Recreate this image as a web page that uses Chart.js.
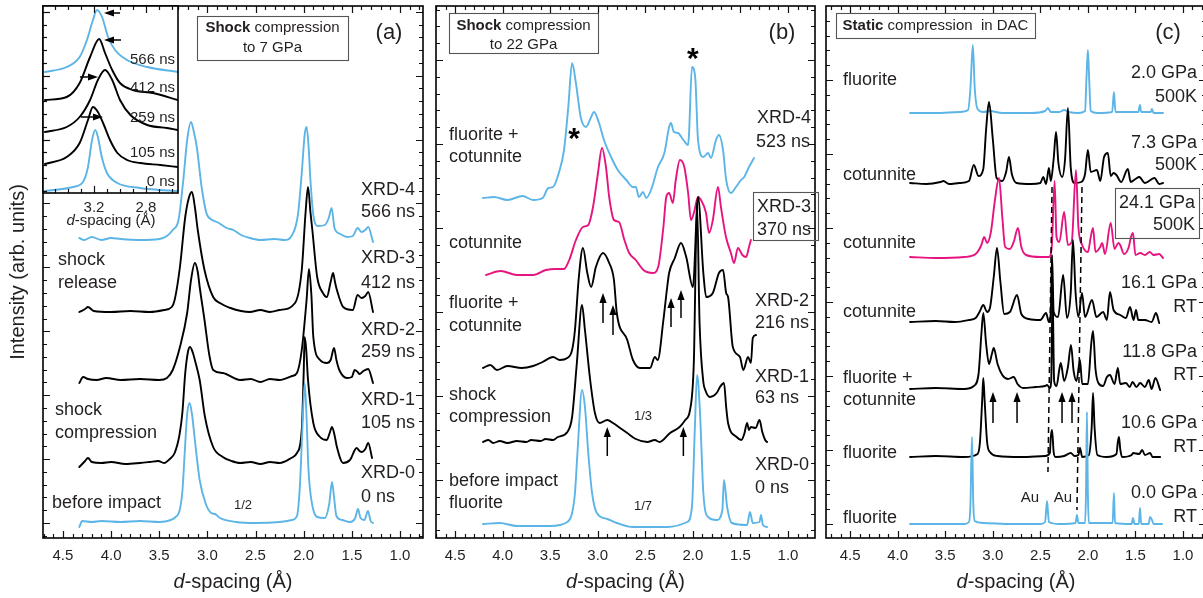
<!DOCTYPE html>
<html><head><meta charset="utf-8">
<script src="https://cdn.jsdelivr.net/npm/chart.js@4.4.1/dist/chart.umd.min.js"></script>
<style>
html,body{margin:0;padding:0;background:#fff;overflow:hidden;width:1203px;height:598px;position:relative;}
canvas{position:absolute;top:0;}
</style></head><body>
<canvas id="ca" width="430" height="598" style="left:0;width:430px;height:598px"></canvas>
<canvas id="cb" width="390" height="598" style="left:430px;width:390px;height:598px"></canvas>
<canvas id="cc" width="390" height="598" style="left:820px;width:390px;height:598px"></canvas>
<canvas id="ci" width="160" height="235" style="left:30px;width:160px;height:235px"></canvas>
<script>
// ---------- tick labels ----------
const xTickLabels = [1.0, 1.5, 2.0, 2.5, 3.0, 3.5, 4.0, 4.5];
const insetTickLabels = [3.2, 2.8];

// ---------- panel (a): shock to 7 GPa  [d-spacing, intensity above trace baseline] ----------
const aNames = ['XRD-0 0 ns', 'XRD-1 105 ns', 'XRD-2 259 ns', 'XRD-3 412 ns', 'XRD-4 566 ns'];
const aOffsets = [16, 75, 158, 226, 298];
const aXRD0 = [[4.33,-5],[4.30,1],[4.20,0],[4.10,1],[3.90,0],[3.70,1],[3.50,0],[3.38,2],[3.33,5],[3.29,11],[3.26,30],[3.235,70],[3.21,108],[3.185,119],[3.16,108],[3.13,82],[3.08,42],[3.02,19],[2.96,9],[2.92,8],[2.87,4],[2.70,0],[2.50,-1],[2.25,0],[2.12,2],[2.07,6],[2.04,35],[2.015,90],[1.99,139],[1.972,109],[1.95,52],[1.915,19],[1.86,5],[1.78,4],[1.735,18],[1.706,40],[1.685,25],[1.66,6],[1.60,2],[1.52,0],[1.465,4],[1.436,13],[1.41,4],[1.37,2],[1.332,11],[1.305,1],[1.28,-1]];
const aXRD1 = [[4.33,-4],[4.27,2],[4.24,5],[4.20,1],[4.10,0],[4.00,1],[3.85,-1],[3.70,0],[3.60,1],[3.51,2],[3.45,0],[3.39,4],[3.34,10],[3.29,28],[3.26,50],[3.23,90],[3.20,112],[3.18,116],[3.15,110],[3.13,103],[3.08,83],[3.025,46],[2.94,16],[2.84,6],[2.75,2],[2.66,0],[2.55,1],[2.45,-1],[2.35,1],[2.25,0],[2.13,5],[2.07,10],[2.02,33],[2.00,90],[1.99,126],[1.975,115],[1.955,83],[1.90,40],[1.83,26],[1.76,23],[1.73,30],[1.706,36],[1.68,28],[1.655,16],[1.59,0],[1.52,3],[1.45,15],[1.42,12],[1.395,11],[1.36,14],[1.33,20],[1.29,5]];
const aXRD2 = [[4.33,-3],[4.29,3],[4.24,1],[4.15,0],[4.05,2],[3.90,0],[3.70,1],[3.50,0],[3.42,2],[3.36,10],[3.285,33],[3.21,67],[3.17,100],[3.13,117],[3.10,108],[3.08,93],[3.03,60],[2.98,25],[2.94,10],[2.84,7],[2.66,0],[2.55,1],[2.45,-2],[2.35,1],[2.25,0],[2.12,4],[2.07,7],[2.02,30],[1.97,80],[1.945,111],[1.92,85],[1.90,43],[1.83,20],[1.76,17],[1.72,20],[1.685,32],[1.66,20],[1.63,10],[1.55,2],[1.50,3],[1.47,10],[1.44,8],[1.42,6],[1.38,9],[1.33,11],[1.28,-3]];
const aXRD3 = [[4.33,0],[4.27,3],[4.24,5],[4.18,1],[4.00,0],[3.80,1],[3.60,0],[3.45,2],[3.37,5],[3.34,12],[3.285,45],[3.23,95],[3.19,115],[3.16,120],[3.13,105],[3.10,82],[3.03,42],[2.94,15],[2.87,9],[2.76,4],[2.65,1],[2.56,0],[2.45,2],[2.35,0],[2.25,2],[2.09,9],[2.02,42],[1.98,100],[1.955,125],[1.93,100],[1.91,82],[1.86,35],[1.80,19],[1.76,15],[1.72,30],[1.695,39],[1.675,30],[1.655,22],[1.59,5],[1.49,2],[1.44,17],[1.40,14],[1.36,16],[1.33,20],[1.28,0]];
const aXRD4 = [[4.33,2],[4.28,0],[4.20,3],[4.10,0],[4.00,2],[3.90,1],[3.70,0],[3.50,1],[3.42,4],[3.36,10],[3.30,20],[3.25,60],[3.21,100],[3.17,118],[3.14,108],[3.11,93],[3.06,53],[3.01,27],[2.95,20],[2.90,18],[2.80,12],[2.73,10],[2.65,5],[2.56,2],[2.45,0],[2.30,1],[2.20,0],[2.12,5],[2.06,25],[2.02,67],[1.99,105],[1.97,113],[1.95,95],[1.93,60],[1.90,25],[1.85,14],[1.78,15],[1.74,22],[1.71,32],[1.68,12],[1.62,6],[1.55,3],[1.49,4],[1.44,12],[1.40,8],[1.36,10],[1.33,13],[1.28,-2]];

// ---------- inset of panel (a) ----------
const insetNames = ['0 ns', '105 ns', '259 ns', '412 ns', '566 ns'];
const insetOffsets = [3, 29, 61, 93, 121];
const in0 = [[3.577,-1],[3.36,3],[3.285,8],[3.246,23],[3.215,50],[3.19,60],[3.17,53],[3.14,33],[3.10,17],[3.02,7],[2.846,2],[2.69,0],[2.554,-1]];
const in105 = [[3.577,0],[3.41,7],[3.31,21],[3.246,44],[3.208,57],[3.17,52],[3.13,41],[3.077,24],[3.02,11],[2.946,4],[2.846,1],[2.69,-1],[2.554,-3]];
const in259 = [[3.577,0],[3.41,5],[3.31,15],[3.23,32],[3.17,52],[3.115,62],[3.06,52],[3.00,32],[2.92,17],[2.79,7],[2.64,4],[2.554,2]];
const in412 = [[3.577,0],[3.41,3],[3.31,17],[3.23,43],[3.16,61],[3.115,47],[3.06,30],[3.00,17],[2.90,10],[2.746,7],[2.554,0]];
const in566 = [[3.577,0],[3.41,5],[3.31,15],[3.254,32],[3.208,52],[3.177,62],[3.138,55],[3.092,35],[3.038,22],[2.946,12],[2.79,5],[2.554,0]];
const insetArrows = [[3.000,3.123,180],[2.992,3.123,153],[3.308,3.169,116],[3.300,3.131,76]]; // [tail d, head d, y]

// ---------- panel (b): shock to 22 GPa ----------
const bNames = ['XRD-0 0 ns', 'XRD-1 63 ns', 'XRD-2 216 ns', 'XRD-3 370 ns', 'XRD-4 523 ns'];
const bOffsets = [13, 96, 170, 265, 340];
const bXRD0 = [[4.207,1],[4.03,2],[3.85,-1],[3.50,-1],[3.32,3],[3.27,12],[3.24,32],[3.21,78],[3.166,135],[3.135,118],[3.10,72],[3.06,32],[3.01,12],[2.90,6],[2.80,2],[2.63,-2],[2.27,-2],[2.06,3],[2.01,18],[1.98,95],[1.956,150],[1.925,112],[1.89,32],[1.84,8],[1.75,5],[1.69,15],[1.673,45],[1.64,18],[1.59,2],[1.43,0],[1.40,13],[1.37,2],[1.30,3],[1.284,10],[1.263,0],[1.22,-2]];
const bXRD1 = [[4.207,0],[4.15,2],[4.10,-1],[4.03,1],[3.95,-1],[3.85,1],[3.75,0],[3.70,2],[3.60,1],[3.55,3],[3.47,2],[3.42,5],[3.32,10],[3.27,25],[3.22,79],[3.166,137],[3.135,112],[3.08,62],[3.03,29],[2.98,19],[2.90,22],[2.84,19],[2.75,13],[2.69,9],[2.60,3],[2.48,0],[2.40,2],[2.35,0],[2.24,9],[2.14,15],[2.08,22],[2.03,32],[1.99,80],[1.956,237],[1.93,120],[1.89,60],[1.87,52],[1.82,45],[1.75,49],[1.715,55],[1.673,59],[1.65,35],[1.63,19],[1.54,5],[1.49,2],[1.46,8],[1.43,19],[1.41,12],[1.39,15],[1.34,14],[1.30,22],[1.27,10],[1.24,2],[1.22,0]];
const bXRD2 = [[4.207,0],[4.13,3],[4.06,-2],[3.95,2],[3.80,0],[3.68,2],[3.58,6],[3.47,11],[3.40,8],[3.32,10],[3.27,18],[3.24,38],[3.20,90],[3.156,120],[3.11,95],[3.07,81],[3.02,101],[2.945,115],[2.88,105],[2.83,88],[2.80,55],[2.69,28],[2.63,8],[2.556,0],[2.45,0],[2.40,11],[2.37,8],[2.31,48],[2.27,81],[2.25,95],[2.19,110],[2.125,125],[2.07,111],[2.00,81],[1.946,171],[1.89,95],[1.86,71],[1.79,75],[1.726,95],[1.683,98],[1.65,75],[1.63,71],[1.58,21],[1.505,11],[1.47,-2],[1.42,11],[1.39,5],[1.37,30],[1.336,33]];
const bXRD3 = [[4.175,-2],[4.02,2],[3.85,-2],[3.68,-2],[3.545,3],[3.44,4],[3.355,4],[3.30,13],[3.23,33],[3.156,46],[3.10,48],[3.05,66],[2.998,100],[2.956,125],[2.914,106],[2.88,76],[2.83,53],[2.777,51],[2.72,33],[2.67,20],[2.60,13],[2.52,3],[2.42,0],[2.365,6],[2.31,46],[2.28,76],[2.25,80],[2.21,70],[2.18,93],[2.136,113],[2.09,106],[2.05,80],[2.02,53],[1.99,60],[1.946,76],[1.915,73],[1.862,60],[1.83,40],[1.79,53],[1.736,86],[1.705,66],[1.652,36],[1.60,20],[1.568,10],[1.526,25],[1.48,18],[1.44,16],[1.41,26],[1.39,33]];
const bXRD4 = [[4.207,0],[4.09,1],[3.95,-2],[3.79,2],[3.68,-2],[3.58,0],[3.52,10],[3.47,11],[3.41,25],[3.355,48],[3.31,91],[3.27,135],[3.23,115],[3.18,81],[3.124,71],[3.07,81],[3.04,86],[2.99,76],[2.935,58],[2.86,41],[2.79,28],[2.70,18],[2.63,11],[2.60,11],[2.567,1],[2.525,6],[2.49,0],[2.44,8],[2.367,31],[2.30,45],[2.25,71],[2.23,75],[2.20,66],[2.157,65],[2.10,58],[2.05,53],[2.04,65],[2.01,131],[1.975,120],[1.946,58],[1.89,41],[1.84,45],[1.81,40],[1.757,58],[1.726,63],[1.683,48],[1.65,18],[1.60,5],[1.547,11],[1.494,18],[1.46,21],[1.41,31],[1.357,40]];
const bStars = [[3.25,405],[2.00,485]];
const bArrows = [[2.945,215,245],[2.84,203,233],[2.23,211,240],[2.125,220,248],[2.90,82,111],[2.10,82,111]]; // [d, tail y, head y]

// ---------- panel (c): static compression in DAC ----------
const cNames = ['0.0 GPa RT', '10.6 GPa RT', '11.8 GPa RT', '16.1 GPa RT', '24.1 GPa 500K', '7.3 GPa 500K', '2.0 GPa 500K'];
const cOffsets = [14, 81, 149, 216, 281, 354, 425];
const c00 = [[3.87,0],[3.50,0],[3.30,0],[3.25,2],[3.235,20],[3.219,87],[3.205,20],[3.19,3],[3.10,1],[2.80,0],[2.50,0],[2.45,2],[2.43,23],[2.41,2],[2.30,0],[2.13,1],[2.115,9],[2.10,1],[2.03,1],[2.02,30],[2.01,112],[2.00,30],[1.99,1],[1.74,1],[1.726,31],[1.715,1],[1.54,0],[1.526,6],[1.51,0],[1.465,0],[1.452,16],[1.44,0],[1.36,0],[1.347,7],[1.326,4],[1.31,0],[1.22,0]];
const c106 = [[3.87,0],[3.60,1],[3.30,0],[3.16,3],[3.135,15],[3.11,60],[3.10,79],[3.085,55],[3.06,15],[3.03,5],[2.95,1],[2.70,0],[2.45,1],[2.40,4],[2.39,20],[2.377,27],[2.36,5],[2.34,0],[2.25,1],[2.18,4],[2.14,1],[2.10,2],[2.083,9],[2.06,0],[1.99,2],[1.96,30],[1.946,64],[1.93,30],[1.90,2],[1.80,0],[1.70,3],[1.685,15],[1.673,20],[1.66,8],[1.64,0],[1.54,2],[1.525,4],[1.46,3],[1.43,7],[1.40,2],[1.345,4],[1.32,0],[1.24,0]];
const c118 = [[3.87,0],[3.60,1],[3.30,0],[3.20,3],[3.15,15],[3.12,55],[3.10,76],[3.07,45],[3.04,25],[3.01,35],[2.99,41],[2.95,25],[2.90,14],[2.84,10],[2.78,12],[2.74,5],[2.68,1],[2.55,2],[2.45,3],[2.43,4],[2.40,1],[2.385,10],[2.372,99],[2.355,8],[2.33,3],[2.30,20],[2.285,26],[2.25,8],[2.21,22],[2.178,44],[2.15,18],[2.12,8],[2.083,29],[2.06,5],[2.00,5],[1.965,45],[1.946,58],[1.92,20],[1.89,6],[1.84,3],[1.80,12],[1.768,14],[1.72,5],[1.685,21],[1.66,5],[1.60,6],[1.56,2],[1.53,7],[1.49,2],[1.45,6],[1.40,2],[1.36,9],[1.33,0],[1.29,11],[1.24,-1]];
const c161 = [[3.87,0],[3.60,1],[3.40,0],[3.25,2],[3.18,4],[3.14,10],[3.10,17],[3.06,10],[3.03,14],[2.99,45],[2.956,74],[2.92,40],[2.88,8],[2.82,10],[2.745,27],[2.70,8],[2.62,3],[2.50,2],[2.44,9],[2.41,0],[2.39,10],[2.377,67],[2.36,10],[2.314,5],[2.26,47],[2.22,4],[2.18,30],[2.157,82],[2.13,30],[2.10,5],[2.062,29],[2.03,5],[1.957,22],[1.91,5],[1.84,10],[1.80,2],[1.768,30],[1.73,12],[1.66,7],[1.60,4],[1.557,15],[1.52,2],[1.494,12],[1.47,2],[1.40,2],[1.33,0],[1.284,9],[1.25,-1]];
const c241 = [[3.87,0],[3.60,-1],[3.30,0],[3.18,3],[3.12,12],[3.09,20],[3.06,14],[3.02,25],[2.98,55],[2.935,79],[2.90,40],[2.87,10],[2.82,8],[2.78,15],[2.735,29],[2.70,10],[2.65,2],[2.50,0],[2.41,0],[2.38,10],[2.35,76],[2.33,20],[2.30,15],[2.25,45],[2.21,12],[2.17,15],[2.125,87],[2.10,30],[2.06,12],[2.00,5],[1.97,20],[1.946,29],[1.92,5],[1.87,10],[1.85,14],[1.82,3],[1.76,34],[1.72,8],[1.68,14],[1.66,12],[1.62,3],[1.57,10],[1.547,20],[1.526,24],[1.50,2],[1.45,4],[1.40,2],[1.35,5],[1.31,2],[1.25,3],[1.21,-1]];
const c073 = [[3.87,1],[3.70,0],[3.55,2],[3.52,3],[3.46,0],[3.35,1],[3.25,3],[3.20,19],[3.15,8],[3.10,15],[3.07,55],[3.04,82],[3.00,45],[2.96,6],[2.90,3],[2.86,12],[2.83,27],[2.80,10],[2.75,1],[2.60,0],[2.50,1],[2.47,7],[2.44,0],[2.41,16],[2.39,3],[2.36,25],[2.335,52],[2.31,21],[2.27,7],[2.24,25],[2.21,76],[2.18,16],[2.14,1],[2.07,2],[2.03,10],[2.00,34],[1.97,12],[1.905,14],[1.87,3],[1.83,27],[1.79,31],[1.76,8],[1.73,11],[1.70,9],[1.65,2],[1.58,15],[1.55,2],[1.50,5],[1.46,7],[1.40,1],[1.30,6],[1.25,0],[1.21,1]];
const c020 = [[3.87,0],[3.60,0],[3.35,1],[3.26,3],[3.235,25],[3.21,68],[3.19,25],[3.16,4],[3.10,1],[3.03,2],[2.90,0],[2.60,0],[2.45,2],[2.42,5],[2.39,1],[2.30,1],[2.25,3],[2.20,1],[2.10,0],[2.03,2],[2.015,35],[2.00,63],[1.985,30],[1.97,2],[1.90,0],[1.745,1],[1.726,21],[1.71,1],[1.47,1],[1.452,8],[1.44,1],[1.34,1],[1.326,4],[1.31,0],[1.21,0]];
const cArrows = [[2.998,115,146],[2.745,115,146],[2.272,115,146],[2.167,115,146]];
const cDashed = [[[2.377,351],[2.42,66]], [[2.062,351],[2.115,28]]];

// ---------- styling / drawing ----------
const FONT = '"Liberation Sans", Arial, Helvetica, sans-serif';
const BLUE = '#5cb5e6', PINK = '#e6147e', BLACK = '#000000', INK = '#231f20';
const f = (size, style) => (style ? style + ' ' : '') + size + 'px ' + FONT;

function txt(ctx, segs, x, y, align) {
  let w = 0;
  segs.forEach(s => { ctx.font = s[1]; w += ctx.measureText(s[0]).width; });
  let sx = align === 'center' ? x - w / 2 : align === 'right' ? x - w : x;
  ctx.textBaseline = 'middle'; ctx.textAlign = 'left'; ctx.fillStyle = INK;
  segs.forEach(s => { ctx.font = s[1]; ctx.fillText(s[0], sx, y); sx += ctx.measureText(s[0]).width; });
}
function labels(ctx, L, list, size, align) {
  list.forEach(([t, x, y]) => txt(ctx, [[t, f(size)]], x - L, y, align));
}
function box(ctx, L, x1, y1, x2, y2) {
  ctx.save(); ctx.strokeStyle = '#555'; ctx.lineWidth = 1.1;
  ctx.strokeRect(x1 - L + 0.5, y1 + 0.5, x2 - x1, y2 - y1); ctx.restore();
}
function arrow(ctx, x1, y1, x2, y2) {
  const ang = Math.atan2(y2 - y1, x2 - x1), hl = 10, hw = 3.6;
  const bx = x2 - hl * Math.cos(ang), by = y2 - hl * Math.sin(ang);
  ctx.save(); ctx.strokeStyle = '#000'; ctx.fillStyle = '#000'; ctx.lineWidth = 1.5;
  ctx.beginPath(); ctx.moveTo(x1, y1); ctx.lineTo(bx, by); ctx.stroke();
  ctx.beginPath(); ctx.moveTo(x2, y2);
  ctx.lineTo(bx + hw * Math.sin(ang), by - hw * Math.cos(ang));
  ctx.lineTo(bx - hw * Math.sin(ang), by + hw * Math.cos(ang));
  ctx.closePath(); ctx.fill(); ctx.restore();
}
function xTitle(ctx, chart, y, size) {
  const a = chart.chartArea;
  txt(ctx, [['d', f(size, 'italic')], ['-spacing (Å)', f(size)]], (a.left + a.right) / 2, y, 'center');
}
function drawFrame(chart, o) {
  const { ctx, chartArea: a, scales: { x, y } } = chart;
  ctx.save();
  ctx.strokeStyle = '#111'; ctx.lineWidth = 1.2;
  const ms = o.yt.step / o.yt.sub;
  for (let k = -60; k < 300; k++) {
    const v = o.yt.start + k * ms;
    if (v < y.min + 0.5 || v > y.max - 0.5) continue;
    const py = Math.round(y.getPixelForValue(v)) + 0.5;
    const len = (k % o.yt.sub === 0) ? 7 : 4;
    ctx.beginPath();
    ctx.moveTo(a.left, py); ctx.lineTo(a.left + len, py);
    if (o.rightTicks !== false) { ctx.moveTo(a.right, py); ctx.lineTo(a.right - len, py); }
    ctx.stroke();
  }
  for (let k = Math.ceil(x.min * 10 - 1e-6); k <= Math.floor(x.max * 10 + 1e-6); k++) {
    const px = Math.round(x.getPixelForValue(k / 10)) + 0.5;
    const len = o.xMajor(k) ? 7 : 4;
    ctx.beginPath();
    ctx.moveTo(px, a.bottom); ctx.lineTo(px, a.bottom - len);
    ctx.moveTo(px, a.top); ctx.lineTo(px, a.top + len);
    ctx.stroke();
  }
  ctx.lineWidth = 1.6; ctx.strokeStyle = '#000';
  ctx.strokeRect(a.left, a.top, a.right - a.left, a.bottom - a.top);
  ctx.restore();
}

function makeChart(id, o) {
  return new Chart(document.getElementById(id), {
    type: 'line',
    data: {
      datasets: o.series.map(s => ({
        label: s.name,
        data: s.data.map(p => ({ x: p[0], y: p[1] + s.offset })),
        borderColor: s.color, borderWidth: 1.9, pointRadius: 0, fill: false,
        cubicInterpolationMode: 'monotone', borderJoinStyle: 'round', borderCapStyle: 'round'
      }))
    },
    options: {
      responsive: false, animation: false, events: [],
      layout: { padding: o.pad },
      plugins: { legend: { display: false }, tooltip: { enabled: false } },
      scales: {
        x: {
          type: 'linear', reverse: true, min: o.xmin, max: o.xmax,
          afterBuildTicks: s => { s.ticks = o.xticks.map(v => ({ value: v })); },
          afterFit: s => { s.height = o.xh; },
          grid: { display: false, drawTicks: false }, border: { display: false },
          ticks: { font: { family: FONT, size: o.tickSize }, color: INK, padding: o.tickPad,
                   maxRotation: 0, autoSkip: false, callback: v => Number(v).toFixed(1) }
        },
        y: { type: 'linear', display: false, min: 0, max: o.ymax }
      }
    },
    plugins: [{
      id: 'deco',
      beforeDatasetsDraw(chart) {
        if (o.whiteArea) {
          const a = chart.chartArea, c = chart.ctx;
          c.save(); c.fillStyle = '#fff'; c.fillRect(a.left, a.top, a.right - a.left, a.bottom - a.top); c.restore();
        }
      },
      afterDraw(chart) { drawFrame(chart, o); o.deco(chart.ctx, chart); }
    }]
  });
}

const major5 = k => k % 5 === 0;

// ---------- panel (a) ----------
makeChart('ca', {
  xmin: 0.761, xmax: 4.707, ymax: 532, xh: 60, tickSize: 15, tickPad: 9, xticks: xTickLabels,
  pad: { left: 43, right: 7, top: 6, bottom: 0 },
  yt: { start: 15, step: 63.9, sub: 5 }, xMajor: major5,
  series: [
    { name: aNames[0], data: aXRD0, offset: aOffsets[0], color: BLUE },
    { name: aNames[1], data: aXRD1, offset: aOffsets[1], color: BLACK },
    { name: aNames[2], data: aXRD2, offset: aOffsets[2], color: BLACK },
    { name: aNames[3], data: aXRD3, offset: aOffsets[3], color: BLACK },
    { name: aNames[4], data: aXRD4, offset: aOffsets[4], color: BLUE }
  ],
  deco(ctx, chart) {
    const L = 0;
    labels(ctx, L, [['XRD-4',361,190],['566 ns',361,212],['XRD-3',361,258],['412 ns',361,283],
      ['XRD-2',361,330],['259 ns',361,352],['XRD-1',361,400],['105 ns',361,423],['XRD-0',361,473],['0 ns',361,497],
      ['shock',58,260],['release',58,283],['shock',55,410],['compression',55,433],['before impact',52,503]], 18, 'left');
    labels(ctx, L, [['1/2',243,505]], 13, 'center');
    labels(ctx, L, [['(a)',389,33]], 22, 'center');
    box(ctx, L, 197, 16, 348, 60);
    txt(ctx, [['Shock', f(15, 'bold')], [' compression', f(15)]], 272.5, 28, 'center');
    txt(ctx, [['to 7 GPa', f(15)]], 272.5, 48, 'center');
    xTitle(ctx, chart, 582, 20);
    ctx.save(); ctx.translate(18, 272); ctx.rotate(-Math.PI / 2);
    txt(ctx, [['Intensity (arb. units)', f(20)]], 0, 0, 'center'); ctx.restore();
  }
});

// ---------- panel (b) ----------
makeChart('cb', {
  xmin: 0.716, xmax: 4.701, ymax: 532, xh: 60, tickSize: 15, tickPad: 9, xticks: xTickLabels,
  pad: { left: 6, right: 5, top: 6, bottom: 0 },
  yt: { start: 58, step: 84, sub: 5 }, xMajor: major5,
  series: [
    { name: bNames[0], data: bXRD0, offset: bOffsets[0], color: BLUE },
    { name: bNames[1], data: bXRD1, offset: bOffsets[1], color: BLACK },
    { name: bNames[2], data: bXRD2, offset: bOffsets[2], color: BLACK },
    { name: bNames[3], data: bXRD3, offset: bOffsets[3], color: PINK },
    { name: bNames[4], data: bXRD4, offset: bOffsets[4], color: BLUE }
  ],
  deco(ctx, chart) {
    const L = 430, x = chart.scales.x, y = chart.scales.y;
    labels(ctx, L, [['fluorite +',449,135],['cotunnite',449,157],['cotunnite',449,243],['fluorite +',449,303],
      ['cotunnite',449,326],['shock',449,395],['compression',449,417],['before impact',449,481],['fluorite',449,503],
      ['XRD-4',757,118],['523 ns',756,142],['XRD-3',757,207],['370 ns',757,230],['XRD-2',755,301],['216 ns',755,323],
      ['XRD-1',755,377],['63 ns',755,398],['XRD-0',755,465],['0 ns',755,488]], 18, 'left');
    labels(ctx, L, [['1/3',643,416],['1/7',643,506]], 13, 'center');
    labels(ctx, L, [['(b)',782,33]], 22, 'center');
    box(ctx, L, 753, 192, 818, 240);
    box(ctx, L, 449, 13, 598, 53);
    txt(ctx, [['Shock', f(15, 'bold')], [' compression', f(15)]], 523.5 - L, 26, 'center');
    txt(ctx, [['to 22 GPa', f(15)]], 523.5 - L, 45, 'center');
    bStars.forEach(([d, v]) => {
      ctx.save(); ctx.font = 'bold 30px ' + FONT; ctx.fillStyle = '#000'; ctx.textAlign = 'center'; ctx.textBaseline = 'middle';
      ctx.fillText('*', x.getPixelForValue(d), y.getPixelForValue(v) + 7); ctx.restore();
    });
    bArrows.forEach(([d, v1, v2]) => arrow(ctx, x.getPixelForValue(d), y.getPixelForValue(v1), x.getPixelForValue(d), y.getPixelForValue(v2)));
    xTitle(ctx, chart, 582, 20);
  }
});

// ---------- panel (c) ----------
makeChart('cc', {
  xmin: 0.758, xmax: 4.754, ymax: 532, xh: 60, tickSize: 15, tickPad: 9, xticks: xTickLabels,
  pad: { left: 6, right: 4, top: 6, bottom: 0 },
  yt: { start: 14, step: 74, sub: 5 }, xMajor: major5,
  series: [
    { name: cNames[0], data: c00, offset: cOffsets[0], color: BLUE },
    { name: cNames[1], data: c106, offset: cOffsets[1], color: BLACK },
    { name: cNames[2], data: c118, offset: cOffsets[2], color: BLACK },
    { name: cNames[3], data: c161, offset: cOffsets[3], color: BLACK },
    { name: cNames[4], data: c241, offset: cOffsets[4], color: PINK },
    { name: cNames[5], data: c073, offset: cOffsets[5], color: BLACK },
    { name: cNames[6], data: c020, offset: cOffsets[6], color: BLUE }
  ],
  deco(ctx, chart) {
    const L = 820, x = chart.scales.x, y = chart.scales.y;
    ctx.save(); ctx.strokeStyle = '#000'; ctx.lineWidth = 1.5; ctx.setLineDash([6, 4]);
    cDashed.forEach(([p, q]) => {
      ctx.beginPath(); ctx.moveTo(x.getPixelForValue(p[0]), y.getPixelForValue(p[1]));
      ctx.lineTo(x.getPixelForValue(q[0]), y.getPixelForValue(q[1])); ctx.stroke();
    });
    ctx.restore();
    cArrows.forEach(([d, v1, v2]) => arrow(ctx, x.getPixelForValue(d), y.getPixelForValue(v1), x.getPixelForValue(d), y.getPixelForValue(v2)));
    labels(ctx, L, [['fluorite',843,80],['cotunnite',843,175],['cotunnite',843,243],['cotunnite',843,312],
      ['fluorite +',843,378],['cotunnite',843,400],['fluorite',843,453],['fluorite',843,518]], 18, 'left');
    labels(ctx, L, [['2.0 GPa',1197,73],['500K',1197,97],['7.3 GPa',1197,143],['500K',1197,165],
      ['24.1 GPa',1195,203],['500K',1195,225],['16.1 GPa',1197,283],['RT',1197,307],['11.8 GPa',1197,352],['RT',1197,375],
      ['10.6 GPa',1197,423],['RT',1197,447],['0.0 GPa',1197,493],['RT',1197,517]], 18, 'right');
    labels(ctx, L, [['Au',1030,498],['Au',1063,498]], 15, 'center');
    labels(ctx, L, [['(c)',1168,33]], 22, 'center');
    box(ctx, L, 1115, 188, 1199, 238);
    box(ctx, L, 836, 13, 1035, 38);
    txt(ctx, [['Static', f(15, 'bold')], [' compression  in DAC', f(15)]], 935.5 - L, 26, 'center');
    xTitle(ctx, chart, 582, 20);
  }
});

// ---------- inset in panel (a) ----------
makeChart('ci', {
  xmin: 2.554, xmax: 3.592, ymax: 187, xh: 42, tickSize: 15, tickPad: 6, xticks: insetTickLabels,
  pad: { left: 13, right: 12, top: 6, bottom: 0 }, whiteArea: true,
  yt: { start: -330, step: 63.9, sub: 5 }, xMajor: k => k === 28 || k === 32, rightTicks: false,
  series: [
    { name: insetNames[0], data: in0, offset: insetOffsets[0], color: BLUE },
    { name: insetNames[1], data: in105, offset: insetOffsets[1], color: BLACK },
    { name: insetNames[2], data: in259, offset: insetOffsets[2], color: BLACK },
    { name: insetNames[3], data: in412, offset: insetOffsets[3], color: BLACK },
    { name: insetNames[4], data: in566, offset: insetOffsets[4], color: BLUE }
  ],
  deco(ctx, chart) {
    const L = 30, x = chart.scales.x, y = chart.scales.y;
    labels(ctx, L, [['566 ns',175,60],['412 ns',175,88],['259 ns',175,118],['105 ns',175,153],['0 ns',175,182]], 15, 'right');
    insetArrows.forEach(([d1, d2, v]) => arrow(ctx, x.getPixelForValue(d1), y.getPixelForValue(v), x.getPixelForValue(d2), y.getPixelForValue(v)));
    txt(ctx, [['d', f(15, 'italic')], ['-spacing (Å)', f(15)]], 111 - L, 221, 'center');
  }
});
</script>
</body></html>
